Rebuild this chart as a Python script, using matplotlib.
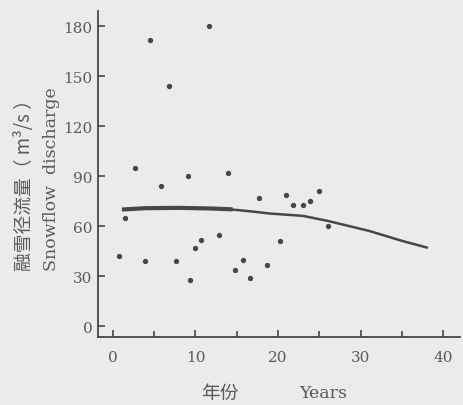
import numpy as np
import matplotlib
matplotlib.use("Agg")
import matplotlib.pyplot as plt

# scattered yearly snowflow discharge (m3/s)
years = [0.8, 1.5, 2.65, 3.9, 4.5, 5.8, 6.75, 7.6, 9.1, 9.4, 10.0, 10.7, 11.7,
         12.9, 13.9, 14.8, 15.8, 16.6, 17.7, 18.7, 20.2, 21.0, 21.8, 23.0,
         23.9, 24.9, 26.0]
discharge = [42, 65, 95, 39, 172, 84, 144, 39, 90, 28, 47, 52, 180,
             55, 92, 34, 40, 29, 77, 37, 51, 79, 73, 73,
             75, 81, 60]

# fitted trend (thick early part, thinner later part)
trend_x1 = [1.1, 4, 8, 12, 14.5]
trend_y1 = [70, 70.8, 71, 70.6, 70.1]
trend_x2 = [14.0, 16.5, 19, 21, 23, 26, 28.5, 31, 33, 35, 38]
trend_y2 = [70.2, 69.0, 67.6, 66.9, 66.2, 63.2, 60.2, 57.2, 54.2, 51.2, 47.2]

xticks = [0, 10, 20, 30, 40]
yticks = [0, 30, 60, 90, 120, 150, 180]

bg = "#ebebe9"
ink = "#474747"
txt = "#5a5a5a"

fig = plt.figure(figsize=(4.64, 4.06), dpi=100, facecolor=bg)
ax = fig.add_axes([0.211, 0.167, 0.78, 0.803], facecolor=bg)

ax.scatter(years, discharge, s=8, color=ink, zorder=3)
ax.plot(trend_x1, trend_y1, color=ink, lw=3.0, solid_capstyle="butt")
ax.plot(trend_x2, trend_y2, color=ink, lw=1.8, solid_joinstyle="round")

ax.set_xlim(-1.8, 42)
ax.set_ylim(-6.6, 189)
ax.set_xticks(xticks)
ax.set_xticks([5, 15, 25, 35], minor=True)
ax.set_yticks(yticks)

for s in ["top", "right"]:
    ax.spines[s].set_visible(False)
for s in ["left", "bottom"]:
    ax.spines[s].set_color(ink)
    ax.spines[s].set_linewidth(1.3)

ax.tick_params(direction="in", length=5, width=1.2, color=ink,
               labelcolor=txt, labelsize=11)
ax.tick_params(which="minor", direction="in", length=4, width=1.2, color=ink)
ax.tick_params(axis="x", pad=9)
ax.tick_params(axis="y", pad=4)
for lab in ax.get_xticklabels() + ax.get_yticklabels():
    lab.set_family("DejaVu Serif")

fig.text(0.053, 0.555, "融雪径流量（ m³/s ）", rotation=90, ha="center", va="center",
         fontsize=13.5, color=txt, family=["Noto Sans CJK SC", "DejaVu Sans"])
fig.text(0.11, 0.56, "Snowflow  discharge", rotation=90, ha="center", va="center",
         fontsize=12.5, color=txt, family="DejaVu Serif")
fig.text(0.474, 0.032, "年份", ha="center", va="center", fontsize=13.5,
         color=txt, family=["Noto Sans CJK SC", "DejaVu Sans"])
fig.text(0.696, 0.032, "Years", ha="center", va="center", fontsize=12.5,
         color=txt, family="DejaVu Serif")

fig.savefig("out.png", dpi=100, facecolor=bg)
